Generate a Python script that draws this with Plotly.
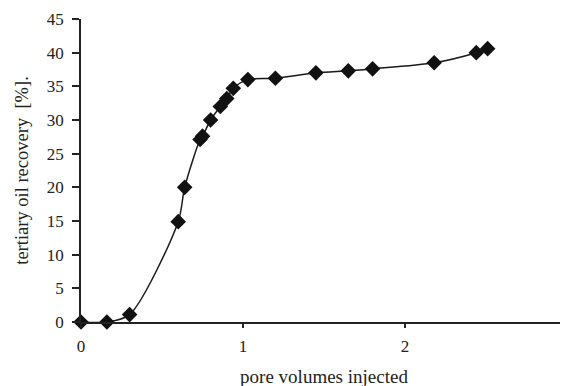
import plotly.graph_objects as go

pore_volumes = [0.0, 0.16, 0.30, 0.60, 0.64, 0.735, 0.75, 0.80, 0.86, 0.90, 0.94, 1.03,
                1.20, 1.45, 1.65, 1.80, 2.18, 2.44, 2.51]
recovery = [0.0, 0.0, 1.1, 14.9, 20.0, 27.1, 27.6, 30.0, 32.0, 33.2, 34.7, 36.0,
            36.2, 37.0, 37.3, 37.6, 38.5, 40.0, 40.6]

x_ticks = [0, 1, 2, 3]
y_ticks = [0, 5, 10, 15, 20, 25, 30, 35, 40, 45]

font_family = "Liberation Serif"
ink = "#222222"

fig = go.Figure()
fig.add_trace(go.Scatter(
    x=pore_volumes, y=recovery, mode="lines+markers",
    line=dict(color="#1a1a1a", width=1.5, shape="spline", smoothing=0.8),
    marker=dict(symbol="diamond", size=12, color="#111111"),
    showlegend=False, cliponaxis=False,
))

fig.update_layout(
    width=568, height=386,
    margin=dict(l=73, r=9, t=11, b=72, autoexpand=False),
    paper_bgcolor="white", plot_bgcolor="white",
    font=dict(family=font_family, color=ink),
    xaxis=dict(
        range=[0, 3], tickvals=x_ticks, ticktext=[str(v) for v in x_ticks],
        showline=True, linecolor=ink, linewidth=1.5,
        ticks="outside", ticklen=4, tickcolor=ink, tickwidth=1.5,
        ticklabelstandoff=4,
        showgrid=False, zeroline=False, automargin=False,
        tickfont=dict(size=17, family=font_family, color=ink),
        title=dict(text="pore volumes injected", font=dict(size=19, family=font_family, color=ink),
                   standoff=15),
    ),
    yaxis=dict(
        range=[0, 45], tickvals=y_ticks,
        showline=True, linecolor=ink, linewidth=1.5,
        ticks="outside", ticklen=7, tickcolor=ink, tickwidth=1.5,
        ticklabelstandoff=5,
        showgrid=False, zeroline=False, automargin=False,
        tickfont=dict(size=17, family=font_family, color=ink),
        title=dict(text="tertiary oil recovery  [%].", font=dict(size=18.5, family=font_family, color=ink),
                   standoff=13),
    ),
)

fig.write_html("out.html")
